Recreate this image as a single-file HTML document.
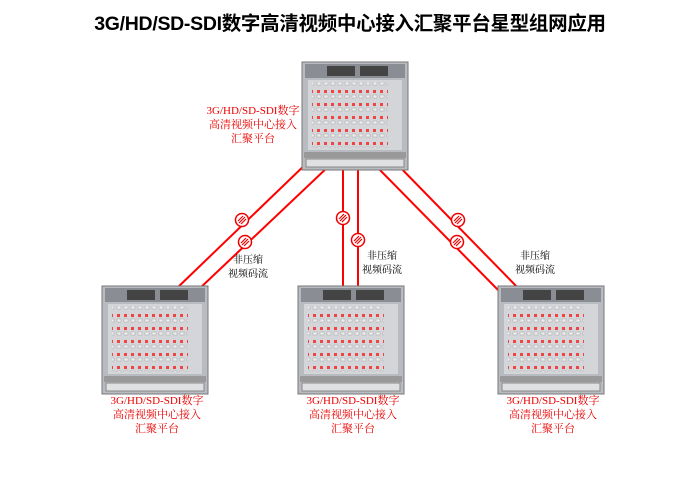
<!DOCTYPE html>
<html><head><meta charset="utf-8"><style>
body{margin:0;background:#fff;width:700px;height:495px;overflow:hidden;position:relative;font-family:"Liberation Serif","Noto Serif CJK SC",serif}
.t{position:absolute;left:0;width:700px;top:7px;text-align:center;font:bold 19.5px "Liberation Sans","Noto Sans CJK SC",sans-serif;color:#000;letter-spacing:-0.3px}
.lb{position:absolute;color:#e00;font-size:11px;line-height:14px;text-align:center;width:120px}
.bk{position:absolute;color:#000;font-size:10px;line-height:14px;text-align:center;width:60px}
</style></head><body>
<div class="t">3G/HD/SD-SDI数字高清视频中心接入汇聚平台星型组网应用</div>
<svg width="700" height="495" style="position:absolute;left:0;top:0">
<defs>
<pattern id="dots" width="7" height="13" patternUnits="userSpaceOnUse">
<rect x="1" y="2" width="3" height="3" fill="#e44"/><rect x="1" y="7" width="4" height="3" fill="#eee" stroke="#999" stroke-width=".4"/>
</pattern>
<g id="dev">
<rect x="0" y="0" width="106" height="108" fill="#b8bbc0" stroke="#777"/>
<rect x="3" y="2" width="100" height="14" fill="#8a8d93"/>
<rect x="25" y="4" width="28" height="10" fill="#444"/><rect x="58" y="4" width="28" height="10" fill="#444"/>
<rect x="6" y="18" width="94" height="70" fill="#d3d5d8"/>
<rect x="10" y="20" width="76" height="66" fill="url(#dots)"/>
<rect x="2" y="90" width="102" height="6" fill="#999"/>
<rect x="4" y="97" width="98" height="8" fill="#e0e1e3" stroke="#888"/>
</g>
<g id="sym"><circle r="6.5" fill="#fff" stroke="#e00" stroke-width="1.5"/><path d="M-3,3 L3,-3 M-1,4 L4,-1 M-4,1 L1,-4" stroke="#e00" stroke-width="1.2"/></g>
</defs>
<g stroke="#f00" stroke-width="2">
<line x1="310" y1="160" x2="175" y2="290"/><line x1="330" y1="165" x2="198" y2="290"/>
<line x1="343" y1="168" x2="343" y2="290"/><line x1="358" y1="168" x2="358" y2="290"/>
<line x1="375" y1="165" x2="500" y2="292"/><line x1="393" y1="160" x2="520" y2="290"/>
</g>
<use href="#sym" x="242" y="220"/><use href="#sym" x="245" y="242"/>
<use href="#sym" x="343" y="218"/><use href="#sym" x="358" y="240"/>
<use href="#sym" x="458" y="220"/><use href="#sym" x="457" y="242"/>
<use href="#dev" x="302" y="62"/>
<use href="#dev" x="102" y="286"/>
<use href="#dev" x="298" y="286"/>
<use href="#dev" x="498" y="286"/>
</svg>
<div class="lb" style="left:193px;top:104px">3G/HD/SD-SDI数字<br>高清视频中心接入<br>汇聚平台</div>
<div class="lb" style="left:97px;top:394px">3G/HD/SD-SDI数字<br>高清视频中心接入<br>汇聚平台</div>
<div class="lb" style="left:293px;top:394px">3G/HD/SD-SDI数字<br>高清视频中心接入<br>汇聚平台</div>
<div class="lb" style="left:493px;top:394px">3G/HD/SD-SDI数字<br>高清视频中心接入<br>汇聚平台</div>
<div class="bk" style="left:218px;top:254px">非压缩<br>视频码流</div>
<div class="bk" style="left:352px;top:250px">非压缩<br>视频码流</div>
<div class="bk" style="left:505px;top:250px">非压缩<br>视频码流</div>
</body></html>
